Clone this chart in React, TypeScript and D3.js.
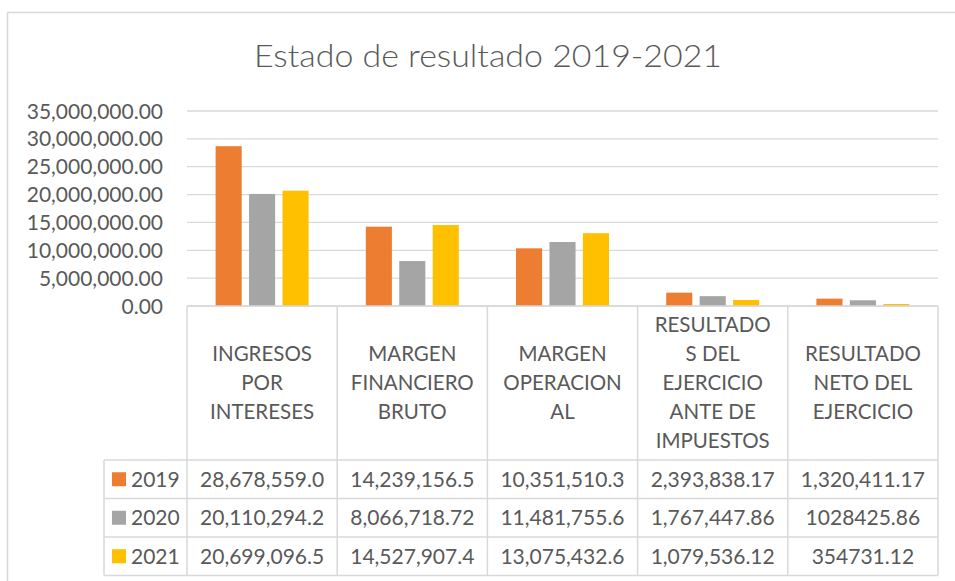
import React from "react";
import * as d3 from "d3";

const categories: string[][] = [
  ["INGRESOS", "POR", "INTERESES"],
  ["MARGEN", "FINANCIERO", "BRUTO"],
  ["MARGEN", "OPERACION", "AL"],
  ["RESULTADO", "S DEL", "EJERCICIO", "ANTE DE", "IMPUESTOS"],
  ["RESULTADO", "NETO DEL", "EJERCICIO"],
];
const seriesNames = ["2019", "2020", "2021"];
const values2019 = [28678559.0, 14239156.5, 10351510.3, 2393838.17, 1320411.17];
const values2020 = [20110294.2, 8066718.72, 11481755.6, 1767447.86, 1028425.86];
const values2021 = [20699096.5, 14527907.4, 13075432.6, 1079536.12, 354731.12];
const labels2019 = ["28,678,559.0", "14,239,156.5", "10,351,510.3", "2,393,838.17", "1,320,411.17"];
const labels2020 = ["20,110,294.2", "8,066,718.72", "11,481,755.6", "1,767,447.86", "1028425.86"];
const labels2021 = ["20,699,096.5", "14,527,907.4", "13,075,432.6", "1,079,536.12", "354731.12"];
const yTicks = [0, 5000000, 10000000, 15000000, 20000000, 25000000, 30000000, 35000000];
const title = "Estado de resultado 2019-2021";

const colors = ["#ED7D31", "#A5A5A5", "#FFC000"];
const seriesValues = [values2019, values2020, values2021];
const seriesLabels = [labels2019, labels2020, labels2021];

const W = 955;
const H = 581;
const plotLeft = 187;
const plotRight = 938;
const plotTop = 111;
const plotBottom = 306;
const headerBottom = 460;
const rowH = 38.5;
const legendLeft = 104;
const textColor = "#595959";
const gridColor = "#D9D9D9";
const font = "Lato, 'Open Sans', sans-serif";

export default function App() {
  const idx = categories.map((_, i) => String(i));
  const x0 = d3.scaleBand<string>().domain(idx).range([plotLeft, plotRight]).padding(0);
  const groupW = 93;
  const x1 = d3
    .scaleBand<string>()
    .domain(seriesNames)
    .range([(x0.bandwidth() - groupW) / 2, (x0.bandwidth() + groupW) / 2])
    .paddingInner(0.22)
    .paddingOuter(0);
  const y = d3.scaleLinear().domain([0, 35000000]).range([plotBottom, plotTop]);
  const fmt = d3.format(",.2f");

  const rowTops = seriesNames.map((_, i) => headerBottom + i * rowH);
  const tableBottom = headerBottom + seriesNames.length * rowH;

  return (
    <svg
      width={W}
      height={H}
      style={{ position: "absolute", left: 0, top: 0, background: "#fff" }}
      fontFamily={font}
    >
      <rect x={0} y={0} width={W} height={H} fill="#fff" />
      {/* chart frame */}
      <path d={`M7.5,${H + 2} L7.5,12.5 L${W + 2},12.5`} fill="none" stroke={gridColor} strokeWidth={1.5} />

      <text
        x={488}
        y={67}
        textAnchor="middle"
        fontSize={31}
        fill={textColor}
        fontWeight={300}
        textLength={468}
        lengthAdjust="spacingAndGlyphs"
      >
        {title}
      </text>

      {/* gridlines */}
      {yTicks.map((t) => (
        <line key={t} x1={plotLeft} x2={plotRight} y1={y(t)} y2={y(t)} stroke={gridColor} strokeWidth={1.3} />
      ))}
      {/* y tick labels */}
      {yTicks.map((t) => (
        <text key={"l" + t} x={163} y={y(t)} dy="0.36em" textAnchor="end" fontSize={21} fill={textColor}>
          {fmt(t)}
        </text>
      ))}

      {/* bars */}
      {categories.map((_, ci) => (
        <g key={ci} transform={`translate(${x0(String(ci))},0)`}>
          {seriesNames.map((s, si) => {
            const v = seriesValues[si][ci];
            return (
              <rect
                key={s}
                x={x1(s)}
                y={y(v)}
                width={x1.bandwidth()}
                height={plotBottom - y(v)}
                fill={colors[si]}
              />
            );
          })}
        </g>
      ))}

      {/* table lines */}
      <g stroke={gridColor} strokeWidth={1.5} fill="none">
        <line x1={plotLeft} x2={plotRight} y1={plotBottom} y2={plotBottom} />
        {[...idx.map((i) => x0(i) as number), plotRight].map((xv, i) => (
          <line key={"v" + i} x1={xv} x2={xv} y1={plotBottom} y2={tableBottom} />
        ))}
        <line x1={legendLeft} x2={legendLeft} y1={headerBottom} y2={tableBottom} />
        {[...rowTops, tableBottom].map((yv, i) => (
          <line key={"h" + i} x1={legendLeft} x2={plotRight} y1={yv} y2={yv} />
        ))}
      </g>

      {/* header labels */}
      {categories.map((lines, ci) => {
        const cx = (x0(String(ci)) as number) + x0.bandwidth() / 2;
        const cy = (plotBottom + headerBottom) / 2 + 7;
        return (
          <text key={"h" + ci} textAnchor="middle" fontSize={20.5} fill={textColor}>
            {lines.map((ln, li) => (
              <tspan key={li} x={cx} y={cy + (li - (lines.length - 1) / 2) * 29}>
                {ln}
              </tspan>
            ))}
          </text>
        );
      })}

      {/* rows */}
      {seriesNames.map((s, si) => {
        const cy = rowTops[si] + rowH / 2;
        return (
          <g key={"r" + s}>
            <rect x={112} y={cy - 7} width={14} height={14} fill={colors[si]} />
            <text x={131} y={cy} dy="0.36em" fontSize={21} fill={textColor}>
              {s}
            </text>
            {seriesLabels[si].map((lab, ci) => (
              <text
                key={ci}
                x={(x0(String(ci)) as number) + x0.bandwidth() / 2}
                y={cy}
                dy="0.36em"
                textAnchor="middle"
                fontSize={21}
                fill={textColor}
              >
                {lab}
              </text>
            ))}
          </g>
        );
      })}
    </svg>
  );
}
